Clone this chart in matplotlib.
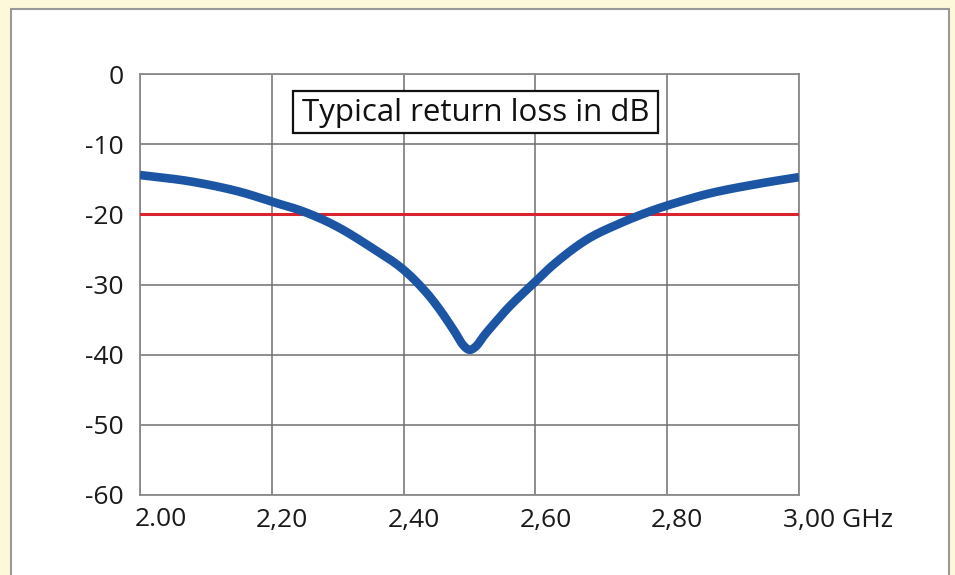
import numpy as np
import matplotlib.pyplot as plt
from matplotlib.patches import Rectangle
from matplotlib.transforms import ScaledTranslation

# return loss (GHz, dB)
freq = [2.000, 2.076, 2.152, 2.200, 2.248, 2.298, 2.349, 2.400, 2.435, 2.455,
        2.478, 2.490, 2.500, 2.510, 2.522, 2.540, 2.561, 2.600, 2.627, 2.678,
        2.728, 2.779, 2.819, 2.865, 2.941, 3.000]
loss = [-14.4, -15.3, -16.8, -18.2, -19.6, -21.7, -24.6, -27.9, -31.2, -33.6,
        -36.8, -38.6, -39.3, -38.8, -37.3, -35.3, -33.1, -29.6, -27.2, -23.6,
        -21.3, -19.4, -18.2, -17.0, -15.6, -14.7]
limit_db = -20

xticks = [2.0, 2.2, 2.4, 2.6, 2.8, 3.0]
xlabels = ['2.00', '2,20', '2,40', '2,60', '2,80', '3,00 GHz']
yticks = [0, -10, -20, -30, -40, -50, -60]
title = 'Typical return loss in dB'

plt.rcParams['font.family'] = ['Open Sans', 'DejaVu Sans']


def hermite(xs, ys, xn):
    # cubic hermite through the read points, slopes from neighbouring secants
    xs = np.asarray(xs); ys = np.asarray(ys)
    d = np.diff(ys) / np.diff(xs)
    m = np.empty_like(ys)
    m[0], m[-1] = d[0], d[-1]
    m[1:-1] = (d[:-1] + d[1:]) / 2
    i = np.clip(np.searchsorted(xs, xn) - 1, 0, len(xs) - 2)
    h = xs[i + 1] - xs[i]
    t = (xn - xs[i]) / h
    return ((2*t**3 - 3*t**2 + 1) * ys[i] + (t**3 - 2*t**2 + t) * h * m[i]
            + (-2*t**3 + 3*t**2) * ys[i + 1] + (t**3 - t**2) * h * m[i + 1])


fig = plt.figure(figsize=(9.55, 5.75), dpi=100)
fig.patch.set_facecolor('#fef8db')
# white inner panel
fig.patches.append(Rectangle((11/955, -0.05), 938/955, 1.05 - 9/575,
                             transform=fig.transFigure, facecolor='white',
                             edgecolor='#9a9a9a', lw=1.5, zorder=-5))

ax = fig.add_axes([140/955, 80/575, 659/955, 421/575])
ax.set_facecolor('white')

fx = np.linspace(2.0, 3.0, 600)
ax.plot(fx, hermite(freq, loss, fx), color='#1c55a3', lw=6.2,
        solid_capstyle='butt', solid_joinstyle='round', zorder=4)
ax.plot([2.0, 3.0], [limit_db, limit_db], color='#d9232e', lw=2.2, zorder=3)

ax.set_xlim(2.0, 3.0)
ax.set_ylim(-60, 0)
ax.set_xticks(xticks)
ax.set_xticklabels(xlabels)
ax.set_yticks(yticks)
ax.set_yticklabels([str(v) for v in yticks])
ax.grid(True, color='#6f6f6f', lw=1.1)
ax.set_axisbelow(True)
for s in ax.spines.values():
    s.set_color('#8a8a8a')
    s.set_linewidth(1.3)
ax.tick_params(length=0, labelsize=19, colors='#1a1a1a')
ax.tick_params(axis='y', pad=12)
ax.tick_params(axis='x', pad=9)

offs = [-5, 10, 10, 10, 10, -16]
for lbl, o in zip(ax.get_xticklabels(), offs):
    if o < 0:
        lbl.set_ha('left')
    lbl.set_transform(lbl.get_transform() + ScaledTranslation(o/100, 0, fig.dpi_scale_trans))

# title box
ax.add_patch(Rectangle((0.232, 0.860), 0.554, 0.100, transform=ax.transAxes,
                       facecolor='white', edgecolor='#111111', lw=1.6, zorder=5))
ax.text(0.509, 0.908, title, transform=ax.transAxes, ha='center', va='center',
        fontsize=22.5, color='#111111', zorder=6)

fig.savefig('out.png', dpi=100, facecolor=fig.get_facecolor())
